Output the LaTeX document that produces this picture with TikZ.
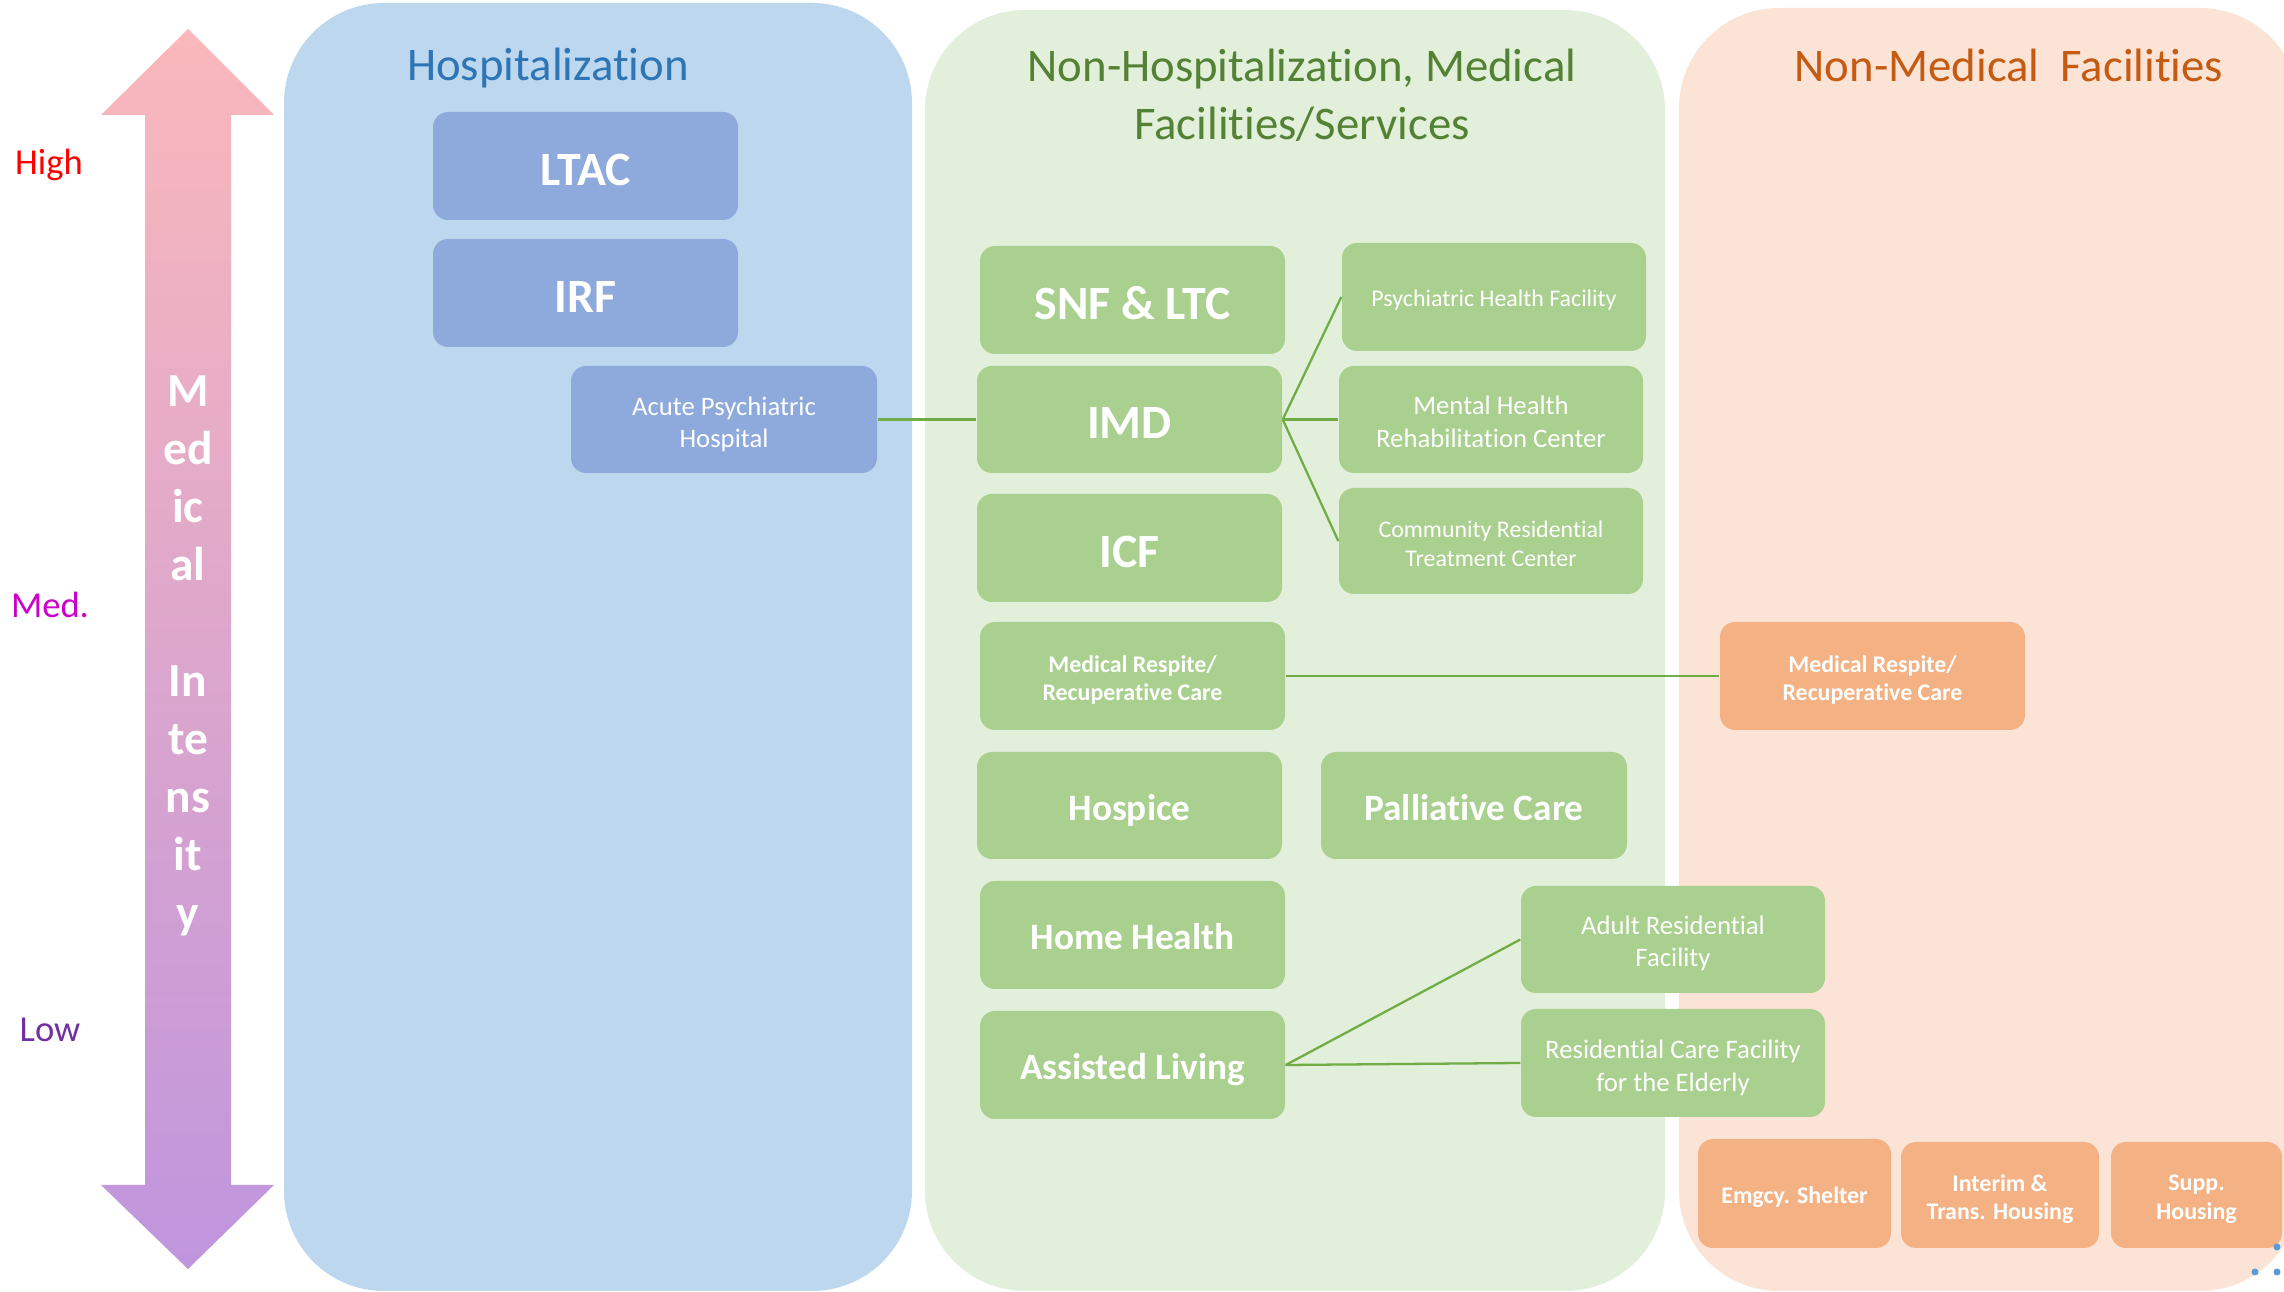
\documentclass[tikz,border=0pt]{standalone}
\usepackage{fontspec}
\setmainfont{Carlito}[Ligatures={NoCommon,NoContextual}]
\definecolor{bluepanel}{HTML}{BDD7EE}
\definecolor{bluebox}{HTML}{8EA9DB}
\definecolor{bluetitle}{HTML}{2E75B6}
\definecolor{greenpanel}{HTML}{E2EFDA}
\definecolor{greenbox}{HTML}{A9D08E}
\definecolor{greentitle}{HTML}{548235}
\definecolor{orangepanel}{HTML}{FBE3D6}
\definecolor{orangebox}{HTML}{F4B183}
\definecolor{orangetitle}{HTML}{C55A11}
\definecolor{linkgreen}{HTML}{70AD47}
\definecolor{arrowtop}{HTML}{FAB8BB}
\definecolor{arrowbot}{HTML}{BF95DD}
\definecolor{highred}{HTML}{FF0000}
\definecolor{medmag}{HTML}{CC00CC}
\definecolor{lowpurple}{HTML}{7030A0}
\definecolor{dotblue}{HTML}{5B9BD5}
% fixed line struts so one-line box text sits at the same optical height
\newcommand\botstrut{\rule[-0.2em]{0pt}{0.2em}}
\begin{document}
\begin{tikzpicture}[x=0.01cm,y=-0.01cm,
  panel/.style={rounded corners=1cm},
  sz/.style 2 args={minimum width=#1*0.01cm, minimum height=#2*0.01cm},
  box/.style={rounded corners=0.15cm, text=white, align=center, inner sep=0pt},
  one/.style={execute at begin node={\rule{0pt}{1.0em}}, execute at end node=\botstrut},
  bbox/.style={box, fill=bluebox},
  gbox/.style={box, fill=greenbox},
  obox/.style={box, fill=orangebox},
  % two-line captions sit as centred labels, lowered a little
  captxt/.style={text=white, align=center, inner sep=0pt},
  capr/.style={captxt, yshift=-0.05cm, font=\fontsize{7.6}{9.2}\selectfont},
  capt/.style={captxt, yshift=-0.03cm, font=\fontsize{6.8}{8.3}\selectfont},
  capb/.style={captxt, yshift=-0.04cm, font=\fontsize{6.8}{8.1}\selectfont\bfseries},
  bigtxt/.style={one, font=\fontsize{13.6}{16}\selectfont\bfseries},
  midtxt/.style={one, font=\fontsize{10.6}{13}\selectfont\bfseries},
  smallb/.style={one, font=\fontsize{6.8}{8.1}\selectfont\bfseries},
  tinyr/.style={one, font=\fontsize{6.8}{8.3}\selectfont},
  title/.style={font=\fontsize{13.3}{16.5}\selectfont, anchor=base},
  level/.style={font=\fontsize{10.4}{12}\selectfont, anchor=base},
  arrowtxt/.style={font=\fontsize{13.5}{16}\selectfont\bfseries, text=white, anchor=base},
  link/.style={draw=linkgreen, line width=0.65pt}
]
\useasboundingbox (0,0) rectangle (2284,1292);
\clip (0,0) rectangle (2284,1292);

% column panels
\fill[bluepanel, panel] (284,3) rectangle (912,1291);
\fill[greenpanel, panel] (925,10) rectangle (1665,1291);
\fill[orangepanel, panel] (1679,8) rectangle (2300,1291);

% column headings
\node[title, text=bluetitle] (thosp) at (548,81) {Hospitalization};
\node[title, text=greentitle] (tnon1) at (1302,82) {Non-Hospitalization, Medical};
\node[title, text=greentitle] (tnon2) at (1302,140) {Facilities/Services};
\node[title, text=orangetitle] (tnonmed) at (2009,82) {Non-Medical\ \ Facilities};

% intensity arrow
\shade[top color=arrowtop, bottom color=arrowbot]
  (188,29) -- (274,115) -- (231,115) -- (231,1185) -- (274,1185) -- (188,1269)
  -- (101,1185) -- (145,1185) -- (145,115) -- (101,115) -- cycle;
\foreach \t [count=\i] in {M,ed,ic,al,{},In,te,ns,it,y}
  \node[arrowtxt] (ax\i) at (188,{407+(\i-1)*58}) {\t};

% intensity levels
\node[level, text=highred] (high) at (49,175) {High};
\node[level, text=medmag] (med) at (50,618) {Med.};
\node[level, text=lowpurple] (low) at (50,1042) {Low};

% hospitalization
\node[bbox, bigtxt, sz={305}{108}] (ltac) at (585.5,166) {LTAC};
\node[bbox, bigtxt, sz={305}{108}] (irf) at (585.5,293) {IRF};
\node[bbox, sz={306}{107}, label={[capr]center:{Acute Psychiatric\\Hospital}}] (acute) at (724,419.5) {};

% non-hospitalization medical facilities
\node[gbox, bigtxt, sz={305}{108}] (snf) at (1132.5,300) {SNF \& LTC};
\node[gbox, bigtxt, sz={305}{107}] (imd) at (1129.5,419.5) {IMD};
\node[gbox, bigtxt, sz={305}{108}] (icf) at (1129.5,548) {ICF};
\node[gbox, sz={305}{108}, label={[capb]center:{Medical Respite/\\Recuperative Care}}] (mrg) at (1132.5,676) {};
\node[gbox, midtxt, sz={305}{107}] (hospice) at (1129.5,805.5) {Hospice};
\node[gbox, midtxt, sz={306}{107}] (palli) at (1474,805.5) {Palliative Care};
\node[gbox, midtxt, sz={305}{108}] (home) at (1132.5,935) {Home Health};
\node[gbox, midtxt, sz={305}{108}] (assist) at (1132.5,1065) {Assisted Living};
\node[gbox, tinyr, sz={304}{108}] (phf) at (1494,297) {Psychiatric Health Facility};
\node[gbox, sz={304}{107}, label={[capr, yshift=0.025cm]center:{Mental Health\\Rehabilitation Center}}] (mhrc) at (1491,419.5) {};
\node[gbox, sz={304}{106}, label={[capt]center:{Community Residential\\Treatment Center}}] (crtc) at (1491,541) {};
\node[gbox, sz={304}{107}, label={[capr, yshift=0.012cm]center:{Adult Residential\\Facility}}] (arf) at (1673,939.5) {};
\node[gbox, sz={304}{108}, label={[capr]center:{Residential Care Facility\\for the Elderly}}] (rcfe) at (1673,1063) {};

% non-medical facilities
\node[obox, sz={305}{108}, label={[capb]center:{Medical Respite/\\Recuperative Care}}] (mro) at (1872.5,676) {};
\node[obox, smallb, sz={193}{109}] (shelter) at (1794.5,1193.5) {Emgcy. Shelter};
\node[obox, sz={198}{106}, label={[capb]center:{Interim \&\\Trans. Housing}}] (interim) at (2000,1195) {};
\node[obox, sz={171}{106}, label={[capb]center:{Supp.\\Housing}}] (supp) at (2196.5,1195) {};

% links
\draw[link] (acute.east) -- (imd.west);
\draw[link] (imd.east) -- (phf.west);
\draw[link] (imd.east) -- (mhrc.west);
\draw[link] (imd.east) -- (crtc.west);
\draw[link] (mrg.east) -- (mro.west);
\draw[link] (assist.east) -- (arf.west);
\draw[link] (assist.east) -- (rcfe.west);

% corner dots
\fill[dotblue] (2277,1247) circle (3.5);
\fill[dotblue] (2255,1272) circle (3.5);
\fill[dotblue] (2277,1272) circle (3.5);
\end{tikzpicture}
\end{document}
